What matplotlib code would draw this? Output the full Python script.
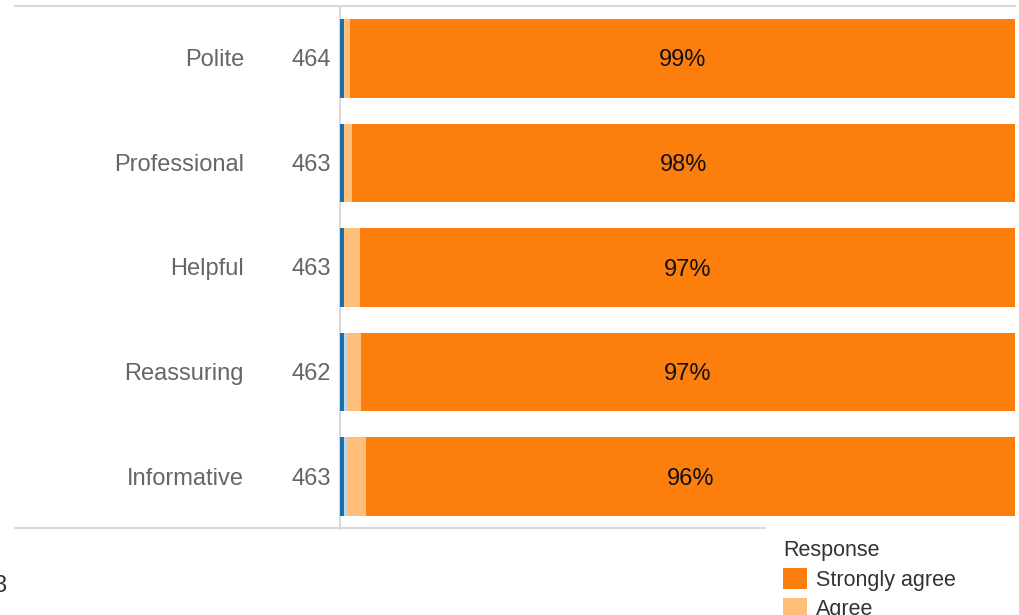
import matplotlib.pyplot as plt
from matplotlib.lines import Line2D
from matplotlib.patches import Patch

plt.rcParams['font.family'] = ['Liberation Sans', 'DejaVu Sans']

# Dados: percentual de respostas por atributo
categorias = ['Polite', 'Professional', 'Helpful', 'Reassuring', 'Informative']
n_respostas = [464, 463, 463, 462, 463]
discorda_total = [0.55, 0.55, 0.55, 0.55, 0.55]
discorda = [0.0, 0.0, 0.0, 0.43, 0.43]
concorda = [0.86, 1.30, 2.38, 2.16, 2.81]
concorda_total = [98.59, 98.15, 97.07, 96.86, 96.21]

cores = ['#1b6fab', '#c3d4e5', '#ffbd7a', '#fc7f0e']
cinza_linha = '#d9d9d9'
cinza_texto = '#666666'

W, H = 1020, 615
fig = plt.figure(figsize=(W / 100, H / 100), dpi=100)
ax = fig.add_axes([340 / W, 1 - 529 / H, 675 / W, (529 - 6) / H])

y = list(range(len(categorias)))
esquerda = [0.0] * len(categorias)
for serie, cor in zip([discorda_total, discorda, concorda, concorda_total], cores):
    ax.barh(y, serie, left=esquerda, height=0.75, color=cor, linewidth=0, zorder=3)
    esquerda = [e + s for e, s in zip(esquerda, serie)]

# Rótulos de porcentagem no segmento "Strongly agree"
for i in y:
    inicio = discorda_total[i] + discorda[i] + concorda[i]
    ax.text(inicio + concorda_total[i] / 2, i + 0.02, f'{round(concorda_total[i])}%',
            ha='center', va='center', fontsize=17, color='#111111', zorder=4)

ax.set_xlim(0, 100)
ax.set_ylim(len(categorias) - 0.5, -0.5)
ax.set_xticks([])
ax.set_yticks([])
for lado in ['top', 'right', 'bottom']:
    ax.spines[lado].set_visible(False)
ax.spines['left'].set_color(cinza_linha)
ax.spines['left'].set_linewidth(1.5)
ax.spines['left'].set_zorder(1)

# Categorias e N à esquerda das barras
for i, (cat, n) in enumerate(zip(categorias, n_respostas)):
    yf = ax.transData.transform((0, i))[1] / H - 2 / H
    fig.text(244 / W, yf, cat, fontsize=17, color=cinza_texto, ha='right', va='center')
    fig.text(331 / W, yf, str(n), fontsize=17, color=cinza_texto, ha='right', va='center')

# Linhas horizontais de topo e base
fig.add_artist(Line2D([15 / W, 1015 / W], [1 - 6 / H] * 2, color=cinza_linha, lw=1.5))
fig.add_artist(Line2D([15 / W, 765 / W], [1 - 528 / H] * 2, color=cinza_linha, lw=1.5))

fig.text(0, 1 - 586 / H, '3', fontsize=17, color='#333333', ha='center', va='center')

# Legenda
handles = [Patch(facecolor=cores[3], edgecolor='none', label='Strongly agree'),
           Patch(facecolor=cores[2], edgecolor='none', label='Agree')]
leg = fig.legend(handles=handles, title='Response', loc='upper left',
                 bbox_to_anchor=(768 / W, 1 - 525 / H), frameon=False,
                 fontsize=15.5, title_fontsize=15.5, handlelength=1.1, handleheight=1.1,
                 handletextpad=0.45, labelspacing=0.32, borderpad=0.2)
leg._legend_box.align = 'left'
for txt in leg.get_texts():
    txt.set_color('#333333')
leg.get_title().set_color('#333333')

fig.savefig('out.png', dpi=100)
